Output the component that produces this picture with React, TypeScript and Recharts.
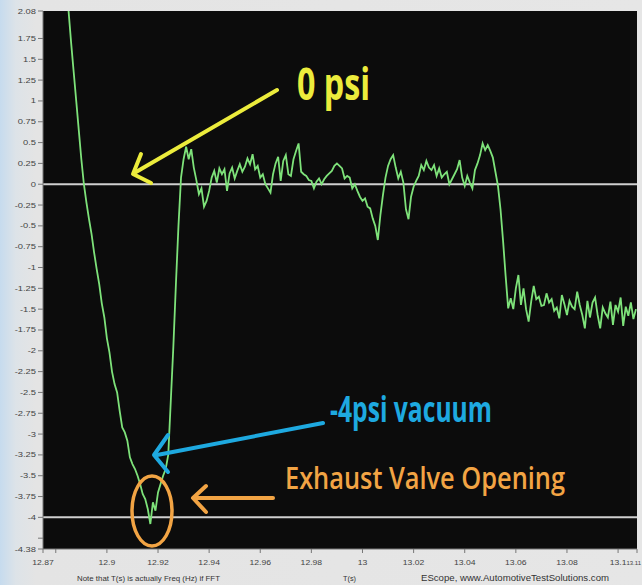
import React from "react";
import {
  LineChart,
  Line,
  XAxis,
  YAxis,
  CartesianGrid,
  ReferenceLine,
} from "recharts";

// scope capture: sample clock and pressure readings (psi)
const T_START = 12.883;
const T_STEP = 0.001;
const PRESSURE = [
  2.9, 2.45, 2.08, 1.7, 1.35, 1.0, 0.65, 0.3, 0.0, -0.22,
  -0.42, -0.6, -0.82, -1.02, -1.2, -1.43, -1.6, -1.85, -2.02, -2.25,
  -2.4, -2.5, -2.72, -2.92, -2.98, -3.08, -3.28, -3.36, -3.42, -3.5,
  -3.6, -3.72, -3.78, -3.9, -4.08, -3.82, -3.92, -3.7, -3.6, -3.5,
  -3.42, -3.25, -2.6, -1.95, -1.2, -0.5, 0.08, 0.3, 0.45, 0.3,
  0.42, 0.2, 0.05, -0.12, -0.05, -0.27, -0.2, -0.08, 0.08, 0.16,
  0.02, 0.19, 0.12, 0.18, -0.08, 0.13, 0.2, 0.07, 0.16, 0.24,
  0.15, 0.21, 0.31, 0.24, 0.36, 0.18, 0.22, 0.08, 0.12, 0.0,
  -0.05, -0.1, 0.12, 0.25, 0.33, 0.04, 0.28, 0.35, 0.12, 0.1,
  0.3, 0.4, 0.49, 0.15, 0.12, 0.1, 0.05, 0.04, -0.05, 0.03,
  0.07, 0.0, 0.06, 0.1, 0.13, 0.16, 0.22, 0.25, 0.22, 0.19,
  0.07, 0.1, 0.08, -0.05, 0.0, -0.08, -0.15, -0.2, -0.17, -0.27,
  -0.29, -0.41, -0.5, -0.67, -0.37, -0.13, 0.08, 0.22, 0.3, 0.35,
  0.2, 0.07, 0.15, 0.02, -0.3, -0.42, -0.15, -0.03, 0.04, 0.1,
  0.23, 0.17, 0.28, 0.2, 0.17, 0.23, 0.1, 0.19, 0.08, 0.12,
  0.15, 0.0, 0.06, 0.12, 0.18, 0.29, 0.08, -0.02, 0.1, 0.02,
  -0.05, 0.17, 0.25, 0.35, 0.49, 0.41, 0.47, 0.4, 0.32, 0.15,
  -0.02, -0.3, -0.68, -1.1, -1.49, -1.37, -1.5, -1.25, -1.09, -1.45,
  -1.25, -1.5, -1.65, -1.41, -1.22, -1.38, -1.35, -1.46, -1.45, -1.31,
  -1.42, -1.38, -1.52, -1.48, -1.61, -1.33, -1.44, -1.57, -1.4, -1.47,
  -1.5, -1.29, -1.45, -1.57, -1.73, -1.4, -1.6, -1.42, -1.36, -1.57,
  -1.73, -1.48, -1.55, -1.6, -1.41, -1.69, -1.45, -1.53, -1.36, -1.7,
  -1.47, -1.58, -1.42, -1.62, -1.5,
];

const X_MIN = 12.875;
const X_MAX = 13.1074;
const Y_MIN = -4.38;
const Y_MAX = 2.08;

const X_TICKS = [
  12.875, 12.88, 12.9, 12.92, 12.94, 12.96, 12.98, 13, 13.02, 13.04, 13.06,
  13.08, 13.1, 13.1074,
];
const X_TICK_LABELS = [
  "12.87", "", "12.9", "12.92", "12.94", "12.96", "12.98", "13", "13.02",
  "13.04", "13.06", "13.08", "13.1", "13.11",
];
const Y_TICKS = [
  2.08, 1.75, 1.5, 1.25, 1, 0.75, 0.5, 0.25, 0, -0.25, -0.5, -0.75, -1, -1.25,
  -1.5, -1.75, -2, -2.25, -2.5, -2.75, -3, -3.25, -3.5, -3.75, -4, -4.25,
  -4.38,
];
const Y_TICK_LABELS = [
  "2.08", "1.75", "1.5", "1.25", "1", "0.75", "0.5", "0.25", "0", "-0.25",
  "-0.5", "-0.75", "-1", "-1.25", "-1.5", "-1.75", "-2", "-2.25", "-2.5",
  "-2.75", "-3", "-3.25", "-3.5", "-3.75", "-4", "", "-4.38",
];

const data = PRESSURE.map((p, i) => ({
  t: Math.round((T_START + i * T_STEP) * 10000) / 10000,
  p,
}));

const TRACE = "#7ee27a";
const YELLOW = "#ecec3c";
const CYAN = "#1ea9e0";
const ORANGE = "#f2a444";
const TICK_FONT = "'Liberation Sans', Arial, sans-serif";
const NOTE_FONT = "'Open Sans', 'Liberation Sans', sans-serif";

function XTick({ x, y, index }: any) {
  const label = X_TICK_LABELS[index] ?? "";
  const last = index === X_TICK_LABELS.length - 1;
  if (last) {
    // end-of-range label squeezed against the right border
    return (
      <text
        x={641}
        y={y + 10}
        textAnchor="end"
        fontSize={6}
        fontFamily={TICK_FONT}
        fill="#444"
      >
        {label}
      </text>
    );
  }
  return (
    <text
      transform={`translate(${x},${y + 10}) scale(1.15,1)`}
      textAnchor="middle"
      fontSize={7.5}
      fontFamily={TICK_FONT}
      fill="#444"
    >
      {label}
    </text>
  );
}

function YTick({ x, y, index }: any) {
  const label = Y_TICK_LABELS[index] ?? "";
  return (
    <text
      transform={`translate(${x},${y + 2.5}) scale(1.25,1)`}
      textAnchor="end"
      fontSize={7.5}
      fontFamily={TICK_FONT}
      fill="#444"
    >
      {label}
    </text>
  );
}

export default function App() {
  return (
    <div
      style={{
        position: "absolute",
        left: 0,
        top: 0,
        width: 642,
        height: 585,
        background:
          "linear-gradient(90deg, #c6dbee 0px, #dde3e8 16px, #e4e4e4 36px, #e6e6e6 100%)",
      }}
    >
      <LineChart
        width={642}
        height={585}
        data={data}
        margin={{ top: 11, right: 5, bottom: 0, left: 0 }}
      >
        <CartesianGrid
          horizontal={false}
          vertical={false}
          fill="#0c0c0c"
          fillOpacity={1}
          stroke="none"
        />
        <XAxis
          type="number"
          dataKey="t"
          domain={[X_MIN, X_MAX]}
          allowDataOverflow
          ticks={X_TICKS}
          interval={0}
          height={36}
          tickSize={4}
          tick={<XTick />}
          stroke="#777"
        />
        <YAxis
          type="number"
          domain={[Y_MIN, Y_MAX]}
          allowDataOverflow
          ticks={Y_TICKS}
          interval={0}
          width={43}
          tickSize={5}
          tickMargin={2}
          tick={<YTick />}
          stroke="#777"
        />
        <ReferenceLine y={0} stroke="#cfcfcf" strokeWidth={2} />
        <ReferenceLine y={-4} stroke="#cfcfcf" strokeWidth={2} />
        <Line
          type="linear"
          dataKey="p"
          stroke={TRACE}
          strokeWidth={1.8}
          dot={false}
          isAnimationActive={false}
        />
      </LineChart>

      {/* photo annotations laid over the scope capture */}
      <svg
        width={642}
        height={585}
        style={{ position: "absolute", left: 0, top: 0, pointerEvents: "none" }}
      >
        <line x1={277} y1={90} x2={136} y2={172} stroke={YELLOW} strokeWidth={4} strokeLinecap="round" />
        <polyline points="141,154 133,174 151,183" fill="none" stroke={YELLOW} strokeWidth={4} strokeLinecap="round" strokeLinejoin="round" />
        <text x={297} y={100} fontSize={44} fontWeight={700} fontFamily={NOTE_FONT} fill={YELLOW} textLength={73} lengthAdjust="spacingAndGlyphs">
          0 psi
        </text>

        <line x1={323} y1={423} x2={157} y2={455} stroke={CYAN} strokeWidth={4} strokeLinecap="round" />
        <polyline points="168,435 154,455 168,472" fill="none" stroke={CYAN} strokeWidth={4} strokeLinecap="round" strokeLinejoin="round" />
        <text x={330} y={422} fontSize={35} fontWeight={700} fontFamily={NOTE_FONT} fill={CYAN} textLength={162} lengthAdjust="spacingAndGlyphs">
          -4psi vacuum
        </text>

        <line x1={273} y1={498} x2={195} y2={498} stroke={ORANGE} strokeWidth={4} strokeLinecap="round" />
        <polyline points="206,486 193,498 206,512" fill="none" stroke={ORANGE} strokeWidth={4} strokeLinecap="round" strokeLinejoin="round" />
        <ellipse cx={152} cy={511} rx={20} ry={35} fill="none" stroke={ORANGE} strokeWidth={3.5} />
        <text x={285} y={489} fontSize={31} fontWeight={600} fontFamily={NOTE_FONT} fill={ORANGE} textLength={280} lengthAdjust="spacingAndGlyphs">
          Exhaust Valve Opening
        </text>

        <text x={77} y={581} fontSize={8} fontFamily={TICK_FONT} fill="#333" textLength={143} lengthAdjust="spacingAndGlyphs">
          Note that T(s) is actually Freq (Hz) if FFT
        </text>
        <text x={343} y={581} fontSize={8} fontFamily={TICK_FONT} fill="#333" textLength={13} lengthAdjust="spacingAndGlyphs">
          T(s)
        </text>
        <text x={421} y={581} fontSize={9} fontFamily={TICK_FONT} fill="#333" textLength={188} lengthAdjust="spacingAndGlyphs">
          EScope, www.AutomotiveTestSolutions.com
        </text>
      </svg>
    </div>
  );
}
